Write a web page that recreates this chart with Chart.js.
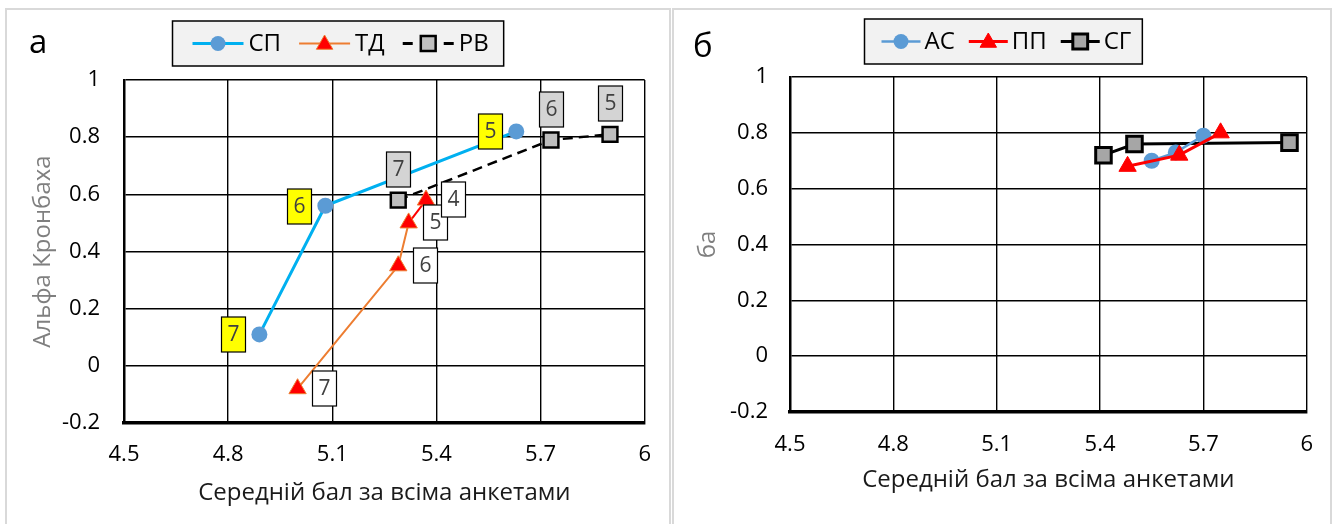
<!DOCTYPE html>
<html>
<head>
<meta charset="utf-8">
<script src="https://cdn.jsdelivr.net/npm/chart.js@4.4.0/dist/chart.umd.min.js"></script>
<style>
  html, body { margin: 0; padding: 0; background: #fff; width: 1333px; height: 524px; overflow: hidden; }
  .panel { position: absolute; box-sizing: border-box; border: 2px solid #d9d9d9; background: #fff; }
  .wrap { position: absolute; top: 0; height: 524px; }
  canvas { display: block; }
</style>
</head>
<body>
<div class="panel" style="left:5px; top:8px; width:666px; height:530px;"></div>
<div class="panel" style="left:672px; top:8px; width:660px; height:530px;"></div>
<div class="wrap" style="left:0; width:670px;"><canvas id="chartA" width="670" height="524"></canvas></div>
<div class="wrap" style="left:670px; width:663px;"><canvas id="chartB" width="663" height="524"></canvas></div>

<script>
// Axis ticks shared by both panels
const xTickLabels = ['4.5', '4.8', '5.1', '5.4', '5.7', '6'];
const yTickLabels = ['-0.2', '0', '0.2', '0.4', '0.6', '0.8', '1'];

// Panel "а": mean score vs Cronbach's alpha, labels = number of items
const spX = [4.89, 5.08, 5.63];
const spY = [0.11, 0.56, 0.82];
const spTags = ['7', '6', '5'];

const tdX = [5.00, 5.29, 5.32, 5.37];
const tdY = [-0.08, 0.35, 0.50, 0.58];
const tdTags = ['7', '6', '5', '4'];

const rvX = [5.29, 5.73, 5.90];
const rvY = [0.58, 0.79, 0.81];
const rvTags = ['7', '6', '5'];

// Panel "б"
const asX = [5.55, 5.62, 5.70];
const asY = [0.70, 0.73, 0.79];

const ppX = [5.48, 5.63, 5.75];
const ppY = [0.68, 0.72, 0.80];

const sgX = [5.41, 5.50, 5.95];
const sgY = [0.72, 0.76, 0.765];

const FONT = '"Open Sans", "Noto Sans", sans-serif';
const pts = (xs, ys) => xs.map((x, i) => ({ x: x, y: ys[i] }));

// simple marker painter used by the boxed legend
function marker(ctx, style, x, y, r, fill, stroke, bw) {
  ctx.save();
  ctx.setLineDash([]);
  ctx.beginPath();
  if (style === 'circle') {
    ctx.arc(x, y, r, 0, Math.PI * 2);
  } else if (style === 'triangle') {
    for (let k = 0; k < 3; k++) {
      const a = k * 2 * Math.PI / 3;
      const px = x + Math.sin(a) * r, py = y - Math.cos(a) * r;
      k ? ctx.lineTo(px, py) : ctx.moveTo(px, py);
    }
    ctx.closePath();
  } else {
    const s = Math.SQRT1_2 * r;
    ctx.rect(x - s, y - s, 2 * s, 2 * s);
  }
  ctx.fillStyle = fill;
  ctx.fill();
  if (bw > 0) { ctx.lineWidth = bw; ctx.strokeStyle = stroke; ctx.stroke(); }
  ctx.restore();
}

// boxed legend with line+marker samples
function boxLegend(cfg) {
  return {
    id: 'boxLegend',
    afterDraw(chart) {
      const ctx = chart.ctx;
      ctx.save();
      ctx.font = cfg.fontSize + 'px ' + FONT;
      const dsList = chart.data.datasets;
      const widths = dsList.map(ds => ctx.measureText(ds.label).width);
      let w = cfg.padL + cfg.padR;
      widths.forEach((tw, i) => { w += cfg.sampleW + cfg.gap + tw + (i ? cfg.itemGap : 0); });
      const x0 = Math.round(cfg.cx - w / 2) + 0.5;
      ctx.fillStyle = '#f2f2f2';
      ctx.fillRect(x0, cfg.top, w, cfg.h);
      ctx.strokeStyle = '#000';
      ctx.lineWidth = 1.5;
      ctx.strokeRect(x0, cfg.top, w, cfg.h);
      const yc = cfg.top + cfg.h / 2;
      let x = x0 + cfg.padL;
      dsList.forEach((ds, i) => {
        if (i) x += cfg.itemGap;
        const lg = ds.legendSample || {};
        ctx.strokeStyle = lg.lineColor || ds.borderColor;
        ctx.lineWidth = lg.lineWidth || ds.borderWidth;
        ctx.setLineDash([]);
        ctx.beginPath();
        if (ds.borderDash && ds.borderDash.length) {
          ctx.moveTo(x, yc); ctx.lineTo(x + 10, yc);
          ctx.moveTo(x + cfg.sampleW - 10, yc); ctx.lineTo(x + cfg.sampleW, yc);
        } else {
          ctx.moveTo(x, yc); ctx.lineTo(x + cfg.sampleW, yc);
        }
        ctx.stroke();
        marker(ctx, ds.pointStyle, x + cfg.sampleW / 2, yc + (ds.pointStyle === 'triangle' ? 1 : 0),
          lg.radius || ds.pointRadius, ds.pointBackgroundColor, ds.pointBorderColor, ds.pointBorderWidth);
        x += cfg.sampleW + cfg.gap;
        ctx.fillStyle = '#000';
        ctx.textAlign = 'left';
        ctx.textBaseline = 'middle';
        ctx.fillText(ds.label, x, yc + 1);
        x += widths[i];
      });
      // panel letter
      ctx.font = cfg.letterSize + 'px ' + FONT;
      ctx.textAlign = 'left';
      ctx.textBaseline = 'alphabetic';
      ctx.fillStyle = '#000';
      ctx.fillText(cfg.letter, cfg.letterX, cfg.letterY);
      ctx.restore();
    }
  };
}

// numbered boxes next to points
const pointTags = {
  id: 'pointTags',
  afterDatasetsDraw(chart) {
    const ctx = chart.ctx;
    ctx.save();
    chart.data.datasets.forEach((ds, i) => {
      if (!ds.tags) return;
      const t = ds.tags;
      chart.getDatasetMeta(i).data.forEach((el, j) => {
        const cx = Math.round(el.x + t.dx), cy = Math.round(el.y + t.dy);
        const w = 24, h = 35;
        const bx = cx - w / 2 + 0.5, by = cy - h / 2 + 0.5;
        ctx.fillStyle = t.fill;
        ctx.fillRect(bx, by, w, h);
        ctx.strokeStyle = '#000';
        ctx.lineWidth = 1.2;
        ctx.strokeRect(bx, by, w, h);
        ctx.fillStyle = '#404040';
        ctx.font = '21px ' + FONT;
        ctx.textAlign = 'center';
        ctx.textBaseline = 'middle';
        ctx.fillText(t.text[j], cx + 0.5, cy + 1);
      });
    });
    ctx.restore();
  }
};

function scales(box, yTitle, yTitleColor, yTitlePad, xTitlePad, yTickPad, xTickPad) {
  const tickFont = { family: FONT, size: 22 };
  const grid = { color: '#000', lineWidth: 1.4, drawTicks: false };
  return {
    x: {
      type: 'linear', min: 4.5, max: 6,
      afterBuildTicks: s => { s.ticks = xTickLabels.map(v => ({ value: Number(v) })); },
      afterFit: s => { s.height = box.h - box.bottom; },
      ticks: { color: '#000', font: tickFont, padding: xTickPad, maxRotation: 0,
               callback: (v) => xTickLabels.find(l => Number(l) === v) },
      grid: grid,
      border: { color: '#000', width: 3.5 },
      title: { display: true, text: 'Середній бал за всіма анкетами', color: '#1a1a1a',
               font: { family: FONT, size: 24 }, padding: { top: 0, bottom: xTitlePad } }
    },
    y: {
      type: 'linear', min: -0.2, max: 1,
      afterBuildTicks: s => { s.ticks = yTickLabels.map(v => ({ value: Number(v) })); },
      afterFit: s => { s.width = box.left; },
      ticks: { color: '#000', font: tickFont, padding: yTickPad,
               callback: (v) => yTickLabels.find(l => Math.abs(Number(l) - v) < 1e-9) },
      grid: grid,
      border: { color: '#000', width: 2.5 },
      title: { display: true, text: yTitle, color: yTitleColor,
               font: { family: FONT, size: 24 }, padding: { top: yTitlePad, bottom: 0 } }
    }
  };
}

function baseOptions(box, sc) {
  return {
    responsive: false,
    animation: false,
    events: [],
    layout: { padding: { left: 0, top: box.top, right: box.w - box.right, bottom: 0 } },
    plugins: { legend: { display: false }, tooltip: { enabled: false } },
    scales: sc
  };
}

// ---- Panel а ----
const boxA = { w: 670, h: 524, left: 124, right: 645, top: 80, bottom: 423 };
new Chart(document.getElementById('chartA'), {
  type: 'scatter',
  data: {
    datasets: [
      {
        label: 'СП', data: pts(spX, spY), showLine: true,
        borderColor: '#00b0f0', borderWidth: 3,
        pointStyle: 'circle', pointRadius: 8, pointBackgroundColor: '#5b9bd5',
        pointBorderColor: '#5b9bd5', pointBorderWidth: 0,
        legendSample: { radius: 7.5 },
        tags: { text: spTags, fill: '#ffff00', dx: -26, dy: 0 }
      },
      {
        label: 'ТД', data: pts(tdX, tdY), showLine: true,
        borderColor: '#ed7d31', borderWidth: 2,
        segment: { borderColor: c => c.p0DataIndex === 2 ? '#ff0000' : '#ed7d31' },
        pointStyle: 'triangle', pointRadius: 10, pointBackgroundColor: '#ff0000',
        pointBorderColor: '#ed7d31', pointBorderWidth: 1,
        legendSample: { radius: 9.5 },
        tags: { text: tdTags, fill: '#ffffff', dx: 26.5, dy: -1 }
      },
      {
        label: 'РВ', data: pts(rvX, rvY), showLine: true,
        borderColor: '#000', borderWidth: 2.5, borderDash: [10, 6],
        pointStyle: 'rect', pointRadius: 10.5, pointBackgroundColor: '#bfbfbf',
        pointBorderColor: '#000', pointBorderWidth: 2.5,
        legendSample: { radius: 10.5, lineWidth: 3 },
        tags: { text: rvTags, fill: '#d4d4d4', dx: 0, dy: -31.5 }
      }
    ]
  },
  options: baseOptions(boxA, scales(boxA, 'Альфа Кронбаха', '#7f7f7f', 28.6, 16.6, 24, 19)),
  plugins: [pointTags, boxLegend({ cx: 338, top: 21, h: 45, fontSize: 24, sampleW: 51, gap: 5,
    itemGap: 18, padL: 20, padR: 15, letter: 'а', letterSize: 33, letterX: 29, letterY: 53 })]
});

// ---- Panel б ----
const boxB = { w: 663, h: 524, left: 120, right: 637.5, top: 77, bottom: 412 };
new Chart(document.getElementById('chartB'), {
  type: 'scatter',
  data: {
    datasets: [
      {
        label: 'АС', data: pts(asX, asY), showLine: true, order: 2,
        borderColor: '#5b9bd5', borderWidth: 2.5,
        pointStyle: 'circle', pointRadius: 8, pointBackgroundColor: '#5b9bd5',
        pointBorderColor: '#5b9bd5', pointBorderWidth: 0,
        legendSample: { radius: 7.5 }
      },
      {
        label: 'ПП', data: pts(ppX, ppY), showLine: true, order: 1,
        borderColor: '#ff0000', borderWidth: 3,
        pointStyle: 'triangle', pointRadius: 10, pointBackgroundColor: '#ff0000',
        pointBorderColor: '#ff0000', pointBorderWidth: 1,
        legendSample: { radius: 9.5 }
      },
      {
        label: 'СГ', data: pts(sgX, sgY), showLine: true, order: 3,
        borderColor: '#000', borderWidth: 3,
        pointStyle: 'rect', pointRadius: 11, pointBackgroundColor: '#a6a6a6',
        pointBorderColor: '#000', pointBorderWidth: 3,
        legendSample: { radius: 10.5 }
      }
    ]
  },
  options: baseOptions(boxB, scales(boxB, 'ба', '#7f7f7f', 23.6, 29.6, 22, 20)),
  plugins: [boxLegend({ cx: 333, top: 19, h: 45, fontSize: 24, sampleW: 39, gap: 4,
    itemGap: 14, padL: 17, padR: 11, letter: 'б', letterSize: 33, letterX: 23, letterY: 57 })]
});
</script>
</body>
</html>
